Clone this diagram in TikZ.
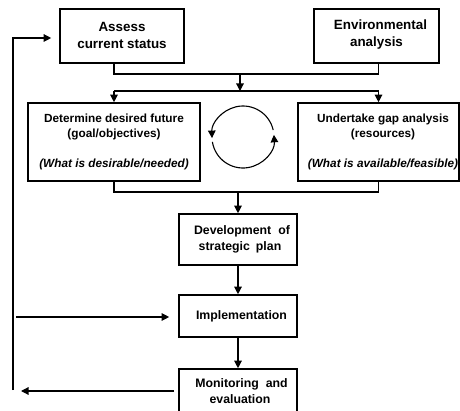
\documentclass[tikz,border=0pt]{standalone}
\usepackage{fontspec}
\setmainfont{Liberation Sans}
\usetikzlibrary{arrows.meta}
\begin{document}
\begin{tikzpicture}[x=1pt,y=-1pt,
  box/.style={draw, line width=1.6pt, inner sep=0pt},
  lbl/.style={inner sep=0pt, align=center},
  bigfont/.style={font=\fontsize{13.4}{17}\selectfont\bfseries},
  midfont/.style={font=\fontsize{11.8}{15}\selectfont\bfseries},
  lowfont/.style={font=\fontsize{12.3}{15.5}\selectfont\bfseries},
  conn/.style={line width=1.2pt},
  arr/.style={line width=1.2pt, -{Triangle[length=7.5pt,width=7.5pt]}},
]
\fill[white] (0,0) rectangle (460,411);
\useasboundingbox (0,0) rectangle (460,411);

% boxes
\node[box, minimum width=124pt, minimum height=54pt] (assess) at (122,36) {};
\node[box, minimum width=125pt, minimum height=54pt] (env) at (376.5,36) {};
\node[box, minimum width=172pt, minimum height=78pt] (goal) at (114,142) {};
\node[box, minimum width=161pt, minimum height=78pt] (gap) at (378.5,142) {};
\node[box, minimum width=118pt, minimum height=51pt] (dev) at (238,239.5) {};
\node[box, minimum width=118pt, minimum height=42pt] (impl) at (238,316) {};
\node[box, minimum width=118pt, minimum height=44pt] (mon) at (238,391) {};

% box texts
\node[lbl, bigfont] (assesstxt) at ([yshift=1pt]assess.center) {Assess\\current status};
\node[lbl, bigfont] (envtxt) at ([yshift=1pt]env.center) {\hspace*{8pt}Environmental\\analysis};
\node[lbl, midfont] (goaltxt) at (goal)
  {Determine desired future\\(goal/objectives)\\[15pt]\textit{(What is desirable/needed)}};
\node[lbl, midfont] (gaptxt) at ([xshift=4.5pt]gap.center)
  {Undertake gap analysis\\(resources)\\[15pt]\textit{(What is available/feasible)}};
\node[lbl, lowfont] (devtxt) at ([xshift=2pt]dev.center)
  {\hspace*{4pt}Development\hspace{7pt}of\\strategic\hspace{6pt}plan};
\node[lbl, lowfont] (impltxt) at ([xshift=3.5pt]impl.center) {Implementation};
\node[lbl, lowfont] (montxt) at ([xshift=2pt]mon.center)
  {\hspace*{3pt}Monitoring\hspace{7pt}and\\evaluation};

% junction points
\coordinate (j1) at (240,74);
\coordinate (j2) at (240,91);
\coordinate (j3) at (238,192);

% merging the two analyses
\draw[conn] (goal.north |- assess.south) -- (goal.north |- j1)
  -- (gap.north |- j1) -- (gap.north |- env.south);
\draw[arr] (j1) -- (j2);
\draw[conn] (goal.north |- j2) -- (gap.north |- j2);
\draw[arr] (goal.north |- j2) -- (goal.north);
\draw[arr] (gap.north |- j2) -- (gap.north);

% merging into the plan
\draw[conn] (goal.south) -- (goal.south |- j3) -- (gap.south |- j3) -- (gap.south);
\draw[arr] (j3) -- (dev.north);
\draw[arr] (dev.south) -- (impl.north);
\draw[arr] (impl.south) -- (mon.north);

% iteration cycle between the two middle boxes
\coordinate (cyc) at (243,137);
\draw[arr, line width=1.1pt] ([shift={(13:31pt)}]cyc) arc[start angle=13, end angle=182, radius=31pt];
\draw[arr, line width=1.1pt] ([shift={(189:31pt)}]cyc) arc[start angle=189, end angle=364, radius=31pt];

% feedback loop
\coordinate (fbtop) at (13,38);
\coordinate (fbbot) at (13,390);
\coordinate (fbin) at (16,317);
\draw[arr, shorten >=8pt] (fbbot) -- (fbtop) -- (fbtop -| assess.west);
\draw[arr, shorten >=9pt] (fbin) -- (fbin -| impl.west);
\draw[arr, shorten <=4pt, shorten >=8pt] (mon.west) -- (mon.west -| fbbot);
\end{tikzpicture}
\end{document}
